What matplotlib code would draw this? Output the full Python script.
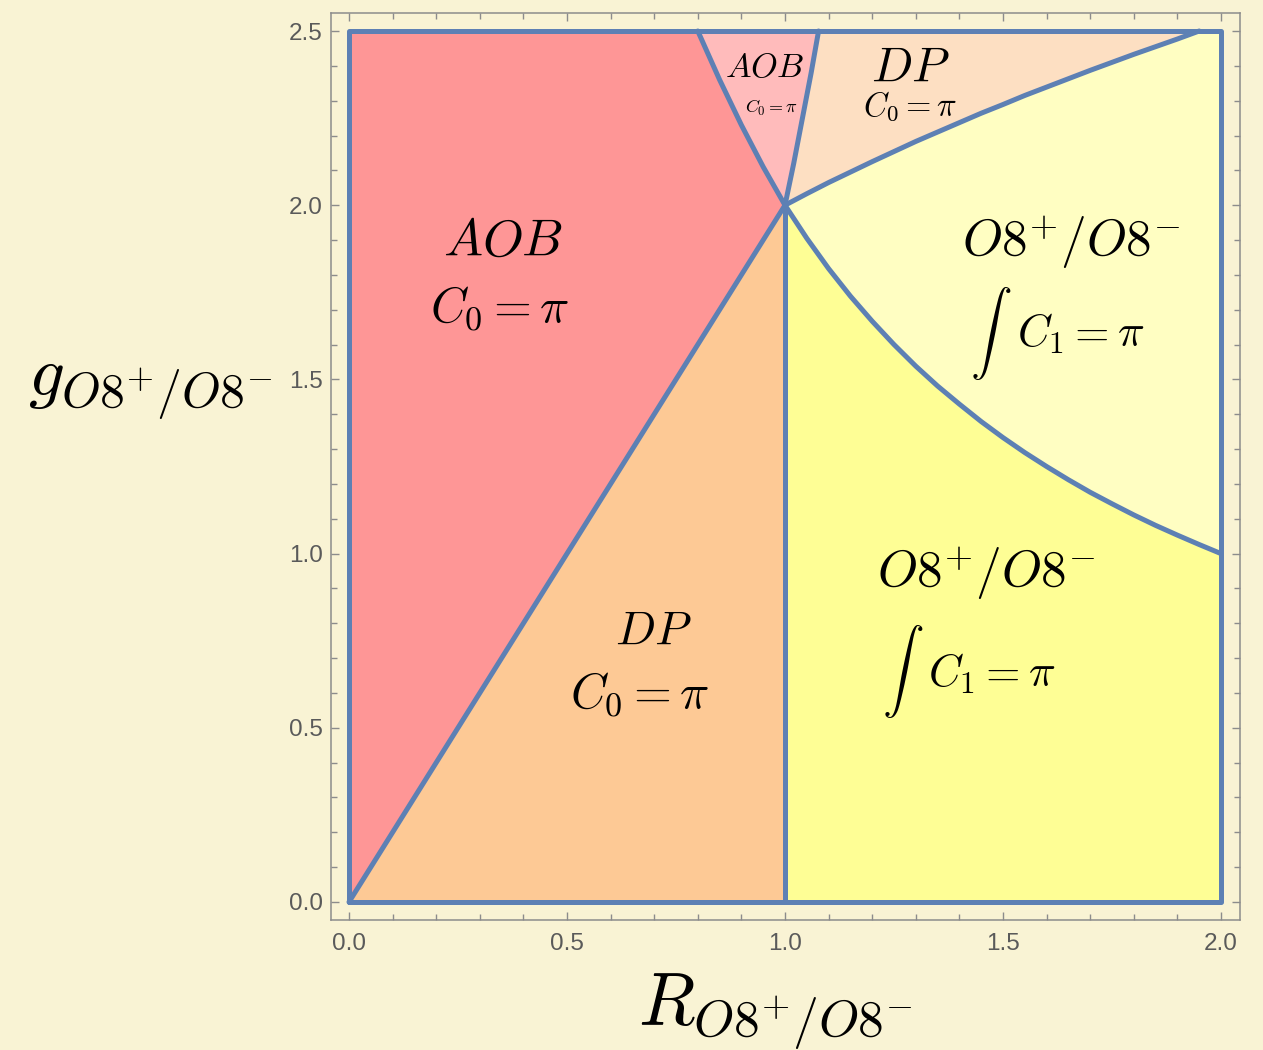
import matplotlib
matplotlib.use("Agg")
import matplotlib.pyplot as plt
from matplotlib.patches import Polygon
from matplotlib.ticker import MultipleLocator

plt.rcParams["mathtext.fontset"] = "cm"
plt.rcParams["font.family"] = ["Liberation Sans", "DejaVu Sans"]

# ---- phase boundaries in the (R, g) plane ----
# diagonal separating AOB and DP (lower)
diag_R = [0.0, 1.0]
diag_g = [0.0, 2.0]
# lower curved boundary between the two O8+/O8- phases
low_R = [1.00, 1.05, 1.10, 1.15, 1.20, 1.25, 1.30, 1.35, 1.40, 1.45, 1.50,
         1.55, 1.60, 1.65, 1.70, 1.75, 1.80, 1.85, 1.90, 1.95, 2.00]
low_g = [2.000, 1.905, 1.818, 1.739, 1.667, 1.600, 1.538, 1.481, 1.429, 1.379, 1.333,
         1.290, 1.250, 1.212, 1.176, 1.143, 1.111, 1.081, 1.053, 1.026, 1.000]
# upper curved boundary between DP (upper) and O8+/O8-
up_R = [1.00, 1.05, 1.10, 1.15, 1.20, 1.25, 1.30, 1.35, 1.40, 1.45, 1.50,
        1.55, 1.60, 1.65, 1.70, 1.75, 1.80, 1.85, 1.90, 1.95]
up_g = [2.000, 2.033, 2.065, 2.095, 2.125, 2.154, 2.183, 2.210, 2.237, 2.264, 2.289,
        2.315, 2.339, 2.363, 2.387, 2.410, 2.433, 2.455, 2.477, 2.500]
# left and right edges of the small AOB wedge
wedgeL_R = [1.0, 0.95, 0.9, 0.85, 0.8]
wedgeL_g = [2.0, 2.11, 2.23, 2.36, 2.5]
wedgeR_R = [1.0, 1.02, 1.04, 1.06, 1.077]
wedgeR_g = [2.0, 2.12, 2.25, 2.38, 2.5]

R_MIN, R_MAX = 0.0, 2.0
G_MIN, G_MAX = 0.0, 2.5
R_CRIT = 1.0

x_ticks = [0.0, 0.5, 1.0, 1.5, 2.0]
y_ticks = [0.0, 0.5, 1.0, 1.5, 2.0, 2.5]

# region colours
c_aob = "#FE9696"
c_aob_small = "#FFBBBB"
c_dp_low = "#FDC995"
c_dp_up = "#FDDFC2"
c_o8_up = "#FFFEC2"
c_o8_low = "#FEFE95"
c_edge = "#5D80B4"
c_bg = "#F9F3D4"

W, H = 1263, 1050
fig = plt.figure(figsize=(W / 100, H / 100), dpi=100, facecolor=c_bg)
ax = fig.add_axes([331 / W, 130 / H, 909 / W, 907 / H])
ax.set_facecolor(c_bg)


def pts(rs, gs):
    return list(zip(rs, gs))


regions = [
    (pts(diag_R, diag_g) + pts(wedgeL_R, wedgeL_g)[1:] + [(R_MIN, G_MAX)], c_aob),
    (pts(wedgeL_R, wedgeL_g) + pts(wedgeR_R, wedgeR_g)[::-1], c_aob_small),
    (pts(wedgeR_R, wedgeR_g) + pts(up_R, up_g)[::-1], c_dp_up),
    (pts(up_R, up_g) + [(R_MAX, G_MAX)] + pts(low_R, low_g)[::-1], c_o8_up),
    ([(R_CRIT, G_MIN), (R_MAX, G_MIN)] + pts(low_R, low_g)[::-1], c_o8_low),
    ([(R_MIN, G_MIN), (R_CRIT, G_MIN), (R_CRIT, diag_g[-1])], c_dp_low),
]
for verts, col in regions:
    ax.add_patch(Polygon(verts, closed=True, facecolor=col, edgecolor="none", zorder=1))

lw = 3.6
line_kw = dict(color=c_edge, lw=lw, zorder=3, solid_joinstyle="round", solid_capstyle="round")
ax.plot([R_MIN, R_MAX, R_MAX, R_MIN, R_MIN], [G_MIN, G_MIN, G_MAX, G_MAX, G_MIN], **line_kw)
ax.plot(diag_R, diag_g, **line_kw)
ax.plot([R_CRIT, R_CRIT], [G_MIN, diag_g[-1]], **line_kw)
ax.plot(low_R, low_g, **line_kw)
ax.plot(up_R, up_g, **line_kw)
ax.plot(wedgeL_R, wedgeL_g, **line_kw)
ax.plot(wedgeR_R, wedgeR_g, **line_kw)

ax.set_xlim(-18 / 436, 2 + 19 / 436)
ax.set_ylim(-18 / 348.4, 2.5 + 18 / 348.4)

# frame and ticks
for sp in ax.spines.values():
    sp.set_color("#8C8C8C")
    sp.set_linewidth(1.1)
ax.set_xticks(x_ticks)
ax.set_yticks(y_ticks)
ax.set_xticklabels([f"{v:.1f}" for v in x_ticks])
ax.set_yticklabels([f"{v:.1f}" for v in y_ticks])
ax.xaxis.set_minor_locator(MultipleLocator(0.1))
ax.yaxis.set_minor_locator(MultipleLocator(0.1))
ax.tick_params(which="both", direction="in", top=True, right=True, color="#8C8C8C", width=1.0)
ax.tick_params(which="major", length=6)
ax.tick_params(which="minor", length=4)
ax.tick_params(axis="x", which="major", labelsize=17.5, labelcolor="#5A5A5A", pad=9)
ax.tick_params(axis="y", which="major", labelsize=17.5, labelcolor="#5A5A5A", pad=6)

# axis labels
fig.text(775 / W, 1 - 1012 / H, r"$R_{O8^{+}/O8^{-}}$", fontsize=53,
         ha="center", va="center")
fig.text(150 / W, 1 - 388 / H, r"$g_{O8^{+}/O8^{-}}$", fontsize=51,
         ha="center", va="center")


def label(px, py, s, size):
    """Place a phase annotation centred on a pixel position."""
    fig.text(px / W, 1 - py / H, s, fontsize=size, ha="center", va="center", zorder=5)


label(503, 242, r"$AOB$", 37.5)
label(500, 308, r"$C_0=\pi$", 35)
label(653, 632, r"$DP$", 34)
label(640, 694, r"$C_0=\pi$", 35)
label(765, 68, r"$AOB$", 24.5)
label(771, 108, r"$C_0=\pi$", 13)
label(910, 68, r"$DP$", 35)
label(910, 106, r"$C_0=\pi$", 23.5)

label(1071, 242, r"$O8^{+}/O8^{-}$", 37)
label(991, 333, r"$\int$", 30)
label(1081, 334, r"$C_1=\pi$", 32)

label(986, 573, r"$O8^{+}/O8^{-}$", 37)
label(903, 672, r"$\int$", 30)
label(992, 674, r"$C_1=\pi$", 32)

fig.savefig("out.png", dpi=100, facecolor=c_bg)
